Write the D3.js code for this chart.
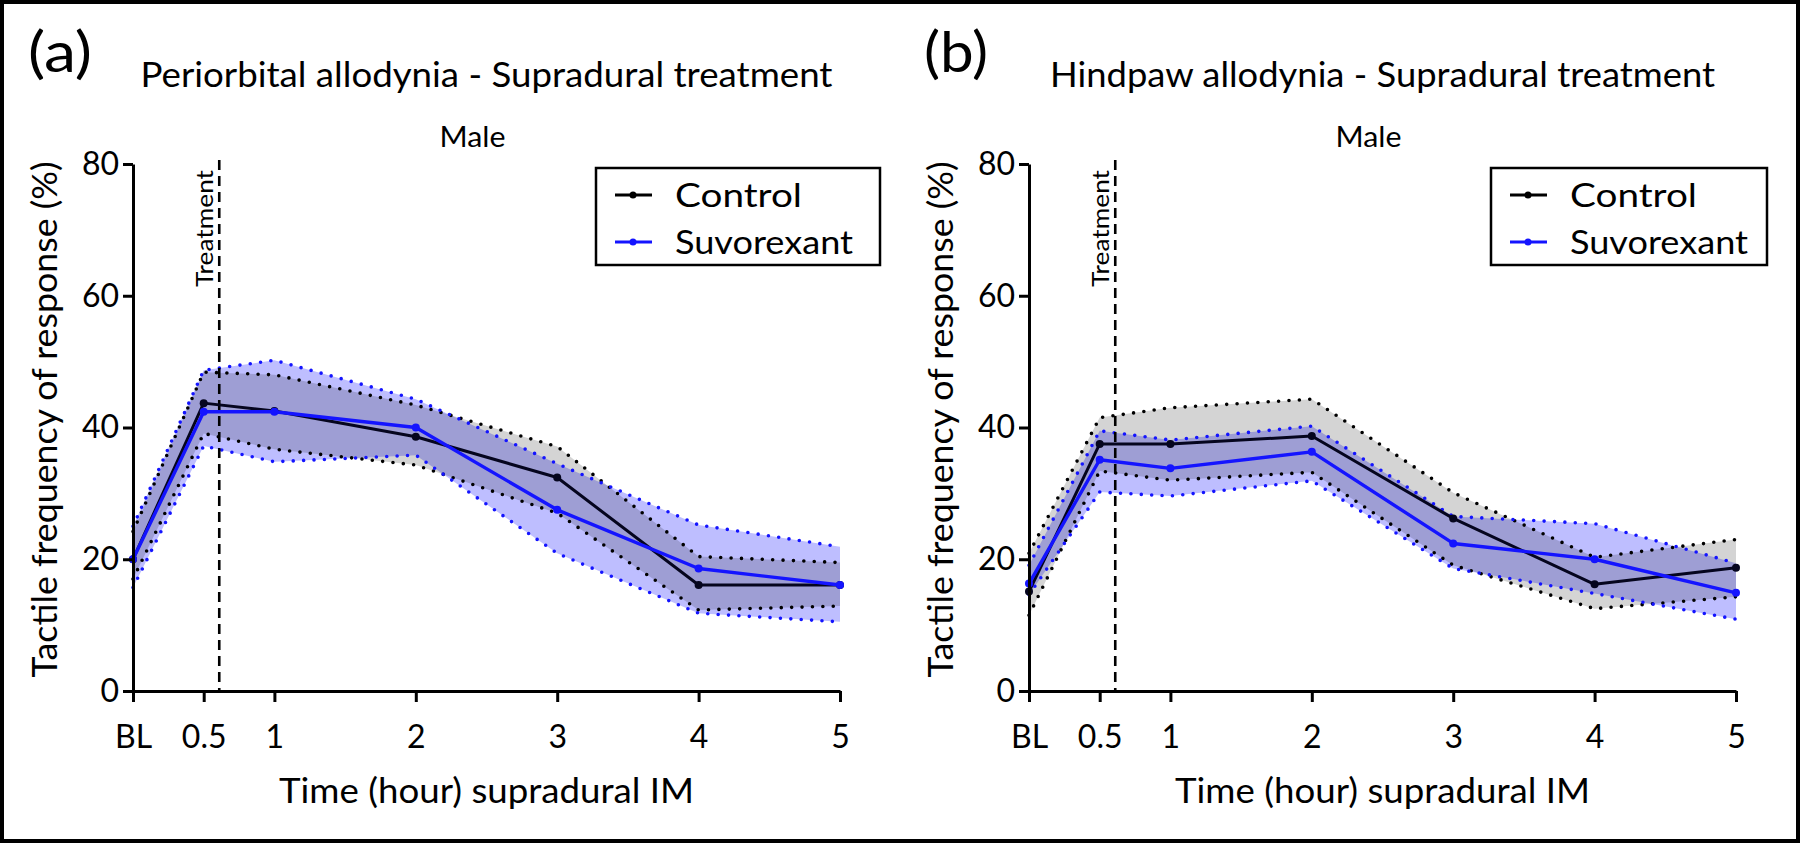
<!DOCTYPE html>
<html><head><meta charset="utf-8">
<script src="https://cdn.jsdelivr.net/npm/d3@7"></script>
<style>
body{margin:0;background:#fff;}
svg{display:block;}
text{font-family:Lato,"Open Sans",sans-serif;fill:#000;}
</style>
</head><body>
<svg id="chart" width="1800" height="843"></svg>
<script>
// ---------- data ----------
const timePoints = [0, 0.5, 1, 2, 3, 4, 5];
const tickLabels = ["BL", "0.5", "1", "2", "3", "4", "5"];
const yTickValues = [0, 20, 40, 60, 80];
const seriesNames = ["Control", "Suvorexant"];
const treatmentTime = 0.61;

// (a) Periorbital
const periControlMean  = [20.0, 43.7, 42.5, 38.6, 32.4, 16.1, 16.1];
const periControlUpper = [24.2, 48.4, 48.0, 43.4, 37.1, 20.4, 19.5];
const periControlLower = [17.0, 39.1, 36.7, 34.3, 27.0, 12.3, 12.9];
const periSuvMean      = [20.0, 42.4, 42.4, 40.0, 27.5, 18.6, 16.1];
const periSuvUpper     = [25.0, 48.7, 50.2, 44.3, 34.5, 25.2, 21.9];
const periSuvLower     = [15.7, 37.2, 34.8, 35.8, 20.9, 11.8, 10.5];

// (b) Hindpaw
const hindControlMean  = [15.1, 37.5, 37.5, 38.7, 26.2, 16.2, 18.7];
const hindControlUpper = [20.9, 41.5, 43.0, 44.3, 30.1, 20.3, 23.0];
const hindControlLower = [11.5, 33.4, 32.0, 33.2, 19.1, 12.5, 14.3];
const hindSuvMean      = [16.3, 35.1, 33.8, 36.3, 22.4, 20.0, 14.9];
const hindSuvUpper     = [19.1, 39.5, 38.1, 40.2, 26.5, 25.4, 19.4];
const hindSuvLower     = [14.6, 30.2, 29.6, 31.9, 18.6, 14.8, 10.9];

// ---------- layout / style ----------
const W = 1800, H = 843;
const BLACK = "#000000", BLUE = "#1414ff";
const svg = d3.select("#chart");

svg.append("rect").attr("x", 2).attr("y", 2).attr("width", W - 4).attr("height", H - 4)
  .attr("fill", "#fff").attr("stroke", "#000").attr("stroke-width", 4);

const panels = [
  { tag: "(a)", title: "Periorbital allodynia - Supradural treatment", titleLen: 692, left: 133,
    control: [periControlMean, periControlUpper, periControlLower],
    suv: [periSuvMean, periSuvUpper, periSuvLower], legendLeft: 596, legendRight: 880 },
  { tag: "(b)", title: "Hindpaw allodynia - Supradural treatment", titleLen: 665, left: 1029,
    control: [hindControlMean, hindControlUpper, hindControlLower],
    suv: [hindSuvMean, hindSuvUpper, hindSuvLower], legendLeft: 1491, legendRight: 1767 }
];

function rows(arr) {
  return timePoints.map((t, i) => ({ t, m: arr[0][i], hi: arr[1][i], lo: arr[2][i] }));
}

panels.forEach(p => {
  const g = svg.append("g");
  const x = d3.scaleLinear().domain([0, 5]).range([p.left, p.left + 707]);
  const y = d3.scaleLinear().domain([0, 80]).range([691, 164]);
  const cx = (x(0) + x(5)) / 2;

  // tag and titles
  g.append("text").attr("x", p.left - 105).attr("y", 72).attr("font-size", 56)
    .attr("textLength", 64).attr("lengthAdjust", "spacingAndGlyphs").text(p.tag);
  g.append("text").attr("x", cx).attr("y", 87).attr("text-anchor", "middle")
    .attr("font-size", 34).attr("textLength", p.titleLen).attr("lengthAdjust", "spacingAndGlyphs")
    .text(p.title);
  g.append("text").attr("x", cx - 14).attr("y", 147).attr("text-anchor", "middle")
    .attr("font-size", 28).attr("textLength", 66).attr("lengthAdjust", "spacingAndGlyphs").text("Male");

  const ctrl = rows(p.control), suv = rows(p.suv);
  const area = d3.area().x(d => x(d.t)).y0(d => y(d.lo)).y1(d => y(d.hi));
  const lineHi = d3.line().x(d => x(d.t)).y(d => y(d.hi));
  const lineLo = d3.line().x(d => x(d.t)).y(d => y(d.lo));
  const lineM = d3.line().x(d => x(d.t)).y(d => y(d.m));

  // bands
  g.append("path").datum(suv).attr("d", area).attr("fill", "rgb(20,20,255)").attr("fill-opacity", 0.28);
  g.append("path").datum(ctrl).attr("d", area).attr("fill", "#000").attr("fill-opacity", 0.17);

  // dotted band edges
  [[ctrl, BLACK], [suv, BLUE]].forEach(([data, col]) => {
    [lineHi, lineLo].forEach(fn => {
      g.append("path").datum(data).attr("d", fn).attr("fill", "none")
        .attr("stroke", col).attr("stroke-width", 3.6)
        .attr("stroke-linecap", "round").attr("stroke-dasharray", "0 10.4");
    });
  });

  // treatment line
  g.append("line").attr("x1", x(treatmentTime)).attr("x2", x(treatmentTime))
    .attr("y1", y(80) - 4).attr("y2", y(0))
    .attr("stroke", "#000").attr("stroke-width", 2.6).attr("stroke-dasharray", "10 6");
  g.append("text")
    .attr("transform", `translate(${x(treatmentTime) - 6},${y(80) + 6}) rotate(-90)`)
    .attr("text-anchor", "end").attr("font-size", 24)
    .attr("textLength", 117).attr("lengthAdjust", "spacingAndGlyphs").text("Treatment");

  // mean lines + markers
  [[ctrl, "#05051e", 3.0], [suv, BLUE, 3.4]].forEach(([data, col, sw]) => {
    g.append("path").datum(data).attr("d", lineM).attr("fill", "none")
      .attr("stroke", col).attr("stroke-width", sw).attr("stroke-linejoin", "round");
    g.selectAll(null).data(data).enter().append("circle")
      .attr("cx", d => x(d.t)).attr("cy", d => y(d.m)).attr("r", 4).attr("fill", col);
  });

  // axes
  const xAxis = d3.axisBottom(x).tickValues(timePoints)
    .tickFormat((d, i) => tickLabels[i]).tickSizeInner(11).tickSizeOuter(0).tickPadding(23);
  const yAxis = d3.axisLeft(y).tickValues(yTickValues).tickSizeInner(10).tickSizeOuter(0).tickPadding(4);
  const gx = g.append("g").attr("transform", `translate(0,${y(0)})`).call(xAxis);
  const gy = g.append("g").attr("transform", `translate(${x(0)},0)`).call(yAxis);
  [gx, gy].forEach(a => {
    a.select(".domain").attr("stroke", "#000").attr("stroke-width", 3);
    a.selectAll(".tick line").attr("stroke", "#000").attr("stroke-width", 3);
    a.selectAll(".tick text").attr("font-size", 32).attr("font-family", "Lato").attr("fill", "#000");
  });

  // axis titles
  g.append("text").attr("x", cx).attr("y", 803).attr("text-anchor", "middle")
    .attr("font-size", 35).attr("textLength", 415).attr("lengthAdjust", "spacingAndGlyphs")
    .text("Time (hour) supradural IM");
  g.append("text")
    .attr("transform", `translate(${x(0) - 76},${(y(0) + y(80)) / 2 - 8}) rotate(-90)`)
    .attr("text-anchor", "middle").attr("font-size", 35)
    .attr("textLength", 516).attr("lengthAdjust", "spacingAndGlyphs")
    .text("Tactile frequency of response (%)");

  // legend
  const lg = g.append("g");
  lg.append("rect").attr("x", p.legendLeft).attr("y", 168)
    .attr("width", p.legendRight - p.legendLeft).attr("height", 97)
    .attr("fill", "#fff").attr("stroke", "#000").attr("stroke-width", 2.5);
  [[seriesNames[0], BLACK, 195, 127], [seriesNames[1], BLUE, 242, 178]].forEach(([name, col, yy, len]) => {
    lg.append("line").attr("x1", p.legendLeft + 19).attr("x2", p.legendLeft + 56)
      .attr("y1", yy).attr("y2", yy).attr("stroke", col).attr("stroke-width", 3);
    lg.append("circle").attr("cx", p.legendLeft + 37).attr("cy", yy).attr("r", 3.5).attr("fill", col);
    lg.append("text").attr("x", p.legendLeft + 79).attr("y", yy + 12)
      .attr("font-size", 32.5).attr("textLength", len).attr("lengthAdjust", "spacingAndGlyphs")
      .text(name);
  });
});
</script>
</body></html>
